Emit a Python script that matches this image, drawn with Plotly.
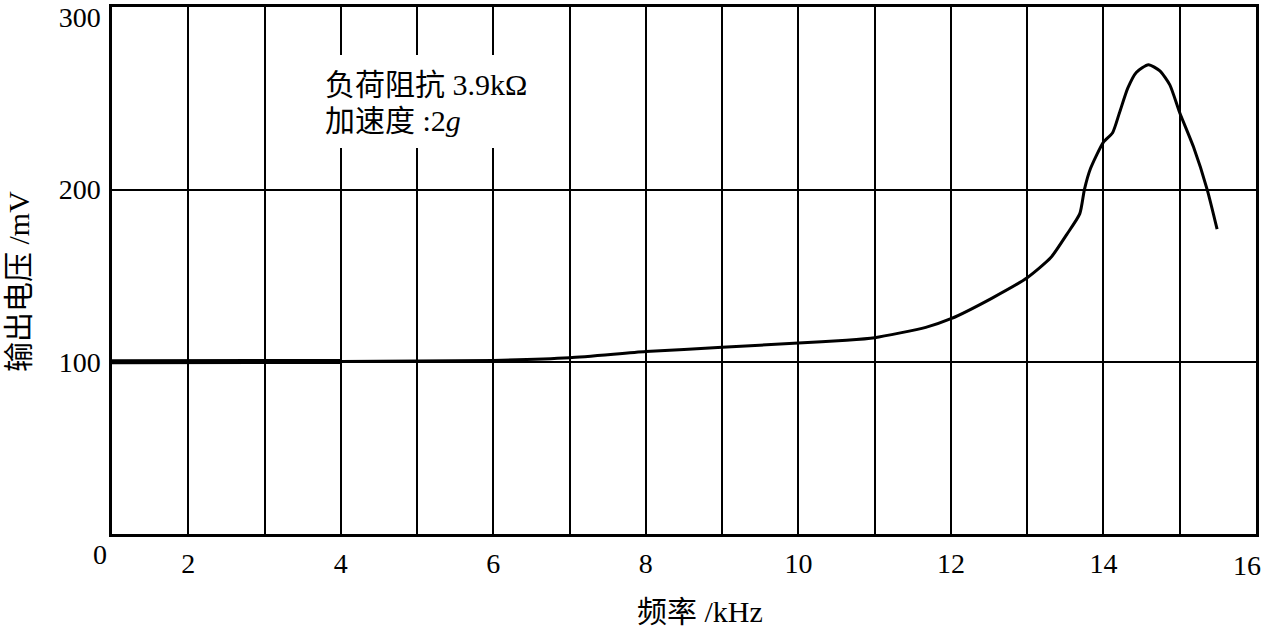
import plotly.graph_objects as go

# Data (frequency kHz, output voltage mV)
freq_khz = [1.0, 2.0, 3.0, 4.0, 5.0, 6.0, 7.0, 8.0, 9.0, 10.0, 10.63, 11.0, 11.67, 12.0,
            12.54, 13.0, 13.31, 13.52, 13.69, 13.75, 13.83, 14.0, 14.12, 14.21,
            14.32, 14.43, 14.59, 14.74, 14.87, 15.0, 15.18, 15.36, 15.49]
voltage_mv = [100.0, 100.0, 100.0, 100.2, 100.4, 100.8, 102.3, 105.9, 108.4, 110.9, 112.5, 114.0,
              120.0, 125.0, 137.0, 148.8, 160.5, 174.0, 186.0, 200.0, 212.2, 227.6,
              233.0, 244.6, 259.0, 268.0, 272.5, 268.9, 260.8, 244.6, 224.8, 200.0, 177.0]

x_tick_vals = [2, 4, 6, 8, 10, 12, 14]
x_tick_text = ["2", "4", "6", "8", "10", "12", "14"]
y_tick_vals = [100, 200, 300]
y_tick_text = ["100", "200", "300"]
x_grid_vals = list(range(2, 16))
y_grid_vals = [100, 200]

note_line1 = "负荷阻抗 3.9kΩ"
note_line2 = "加速度 :2<i>g</i>"
x_title = "频率 /kHz"
y_title = "输出电压 /mV"

FONT = "Liberation Serif, 'Noto Sans CJK SC', serif"

W, H = 1264, 628
ML, MR, MT, MB = 112, 8, 7, 94
PW, PH = W - ML - MR, H - MT - MB


def page_to_paper(px, py):
    return (px - ML) / PW, (MT + PH - py) / PH


fig = go.Figure()
fig.add_trace(go.Scatter(x=freq_khz, y=voltage_mv, mode="lines",
                         line=dict(color="black", width=3, shape="spline", smoothing=0.6),
                         hoverinfo="skip", showlegend=False))
# thicker stroke on the flat start of the curve
fig.add_trace(go.Scatter(x=freq_khz[:4], y=voltage_mv[:4], mode="lines",
                         line=dict(color="black", width=5),
                         hoverinfo="skip", showlegend=False))

fig.update_layout(
    width=W, height=H,
    margin=dict(l=ML, r=MR, t=MT, b=MB, autoexpand=False),
    paper_bgcolor="white", plot_bgcolor="white",
    font=dict(family=FONT, size=28, color="black"),
    showlegend=False,
    xaxis=dict(range=[1, 16], tickmode="array", tickvals=x_tick_vals, ticktext=x_tick_text,
               showgrid=False, zeroline=False, showline=True, linecolor="black", linewidth=2.5,
               mirror=True, ticks="", ticklabelstandoff=3, automargin=False,
               ticklabeloverflow="allow",
               minor=dict(tickmode="array", tickvals=x_grid_vals, showgrid=True,
                          gridcolor="black", gridwidth=2, ticks=""),
               tickfont=dict(size=28, family=FONT)),
    yaxis=dict(range=[0, 306], tickmode="array", tickvals=y_tick_vals, ticktext=y_tick_text,
               showgrid=False, zeroline=False, showline=True, linecolor="black", linewidth=2.5,
               mirror=True, ticks="", ticklabelstandoff=3, automargin=False,
               ticklabeloverflow="allow",
               minor=dict(tickmode="array", tickvals=y_grid_vals, showgrid=True,
                          gridcolor="black", gridwidth=2, ticks=""),
               tickfont=dict(size=28, family=FONT)),
)

# white box behind the note (interrupts the grid lines)
bx0, by0 = page_to_paper(318, 148)
bx1, by1 = page_to_paper(540, 55)
fig.add_shape(type="rect", xref="paper", yref="paper", x0=bx0, y0=by0, x1=bx1, y1=by1,
              fillcolor="white", line=dict(width=0), layer="above")
for line_text, cy in ((note_line1, 85), (note_line2, 120)):
    ax, ay = page_to_paper(323, cy)
    fig.add_annotation(x=ax, y=ay, xref="paper", yref="paper", xanchor="left", yanchor="middle",
                       text=line_text, showarrow=False, align="left",
                       font=dict(size=30, family=FONT, color="black"))

# corner origin label and last x label
fig.add_annotation(x=1, y=0, xref="x", yref="y", text="0", showarrow=False,
                   xshift=-12, yshift=-20, font=dict(size=28, family=FONT))
fig.add_annotation(x=16, y=0, xref="x", yref="y", text="16", showarrow=False,
                   xshift=-9, yshift=-31, font=dict(size=28, family=FONT))
# axis titles
tx, ty = page_to_paper(700, 611)
fig.add_annotation(x=tx, y=ty, xref="paper", yref="paper",
                   text=x_title, showarrow=False, xanchor="center", yanchor="middle",
                   font=dict(size=30, family=FONT))
yx, yy = page_to_paper(18, 282)
fig.add_annotation(x=yx, y=yy, xref="paper", yref="paper",
                   text=y_title, showarrow=False, textangle=-90, xanchor="center", yanchor="middle",
                   font=dict(size=30, family=FONT))

# remove the default 8px page margin so the figure fills the window exactly
fig.write_html("out.html", config={"displayModeBar": False},
               post_script="document.body.style.margin='0';")
